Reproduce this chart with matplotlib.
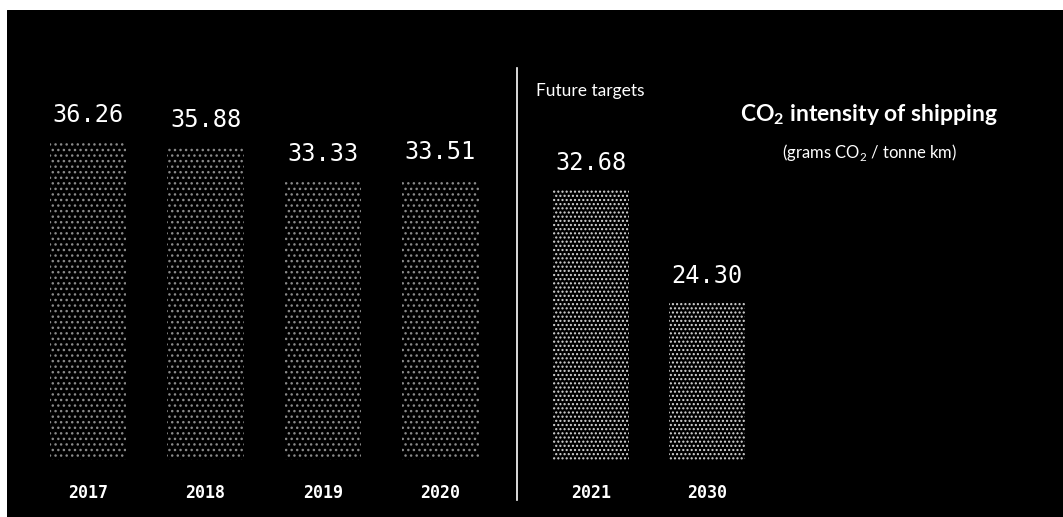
import matplotlib.pyplot as plt

years = ["2017", "2018", "2019", "2020", "2021", "2030"]
values = [36.26, 35.88, 33.33, 33.51, 32.68, 24.30]
xpos = [0, 1, 2, 3, 4.28, 5.27]
future = [False, False, False, False, True, True]
base = 12.7

plt.rcParams['hatch.linewidth'] = 1.0
plt.rcParams['mathtext.fontset'] = 'custom'
plt.rcParams['mathtext.rm'] = 'Lato'
plt.rcParams['mathtext.bf'] = 'Lato:bold'

fig = plt.figure(figsize=(10.63, 5.17), dpi=100)
fig.patch.set_facecolor("white")
ax = fig.add_axes([7 / 1063, 0, 1056 / 1063, 507 / 517])
ax.set_xlim(-0.69, 8.30)
ax.set_ylim(8.44, 46.03)
ax.set_axis_off()
# black background for the axes area (axis off hides facecolor)
ax.add_patch(plt.Rectangle((0, 0), 1, 1, transform=ax.transAxes, color="black", zorder=0))

for x, v, yr, fut in zip(xpos, values, years, future):
    if fut:
        ax.bar(x, v - base, bottom=base, width=0.65, color="black",
               edgecolor="#d8d8d8", hatch="....", linewidth=0, zorder=2)
    else:
        ax.bar(x, v - base, bottom=base, width=0.65, color="black",
               edgecolor="#8a8a8a", hatch="...", linewidth=0, zorder=2)
    ax.text(x, v + 1.1, f"{v:.2f}", color="white", ha="center", va="bottom",
            fontsize=17, family="DejaVu Sans Mono", zorder=3)
    ax.text(x, 10.2, yr, color="white", ha="center", va="center",
            fontsize=12, family="DejaVu Sans Mono", fontweight="bold", zorder=3)

# divider between history and targets
ax.plot([3.65, 3.65], [9.7, 41.7], color="white", linewidth=1.2, zorder=3)
ax.text(3.81, 40.0, "Future targets", color="white", ha="left", va="center",
        fontsize=12.5, family="Lato", zorder=3)

ax.text(6.65, 38.3, r"CO$_\mathbf{2}$ intensity of shipping", color="white", ha="center",
        va="center", fontsize=16.5, fontweight="bold", family="Lato", zorder=3)
ax.text(6.65, 35.5, r"(grams CO$_2$ / tonne km)", color="white", ha="center",
        va="center", fontsize=12, family="Lato", zorder=3)

fig.savefig("out.png", dpi=100, facecolor=fig.get_facecolor())
